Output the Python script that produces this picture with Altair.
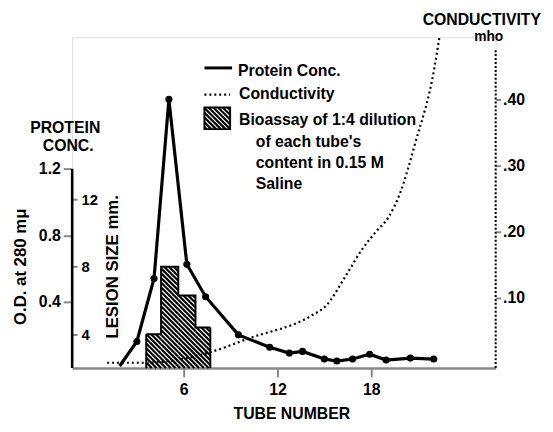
import math
import altair as alt
import pandas as pd

# ---------------- data ----------------
PROTEIN_TUBE = [1.9, 3.0, 4.1, 5.05, 6.2, 7.4, 9.5, 11.5, 12.75, 13.6, 15.0, 15.8, 16.8, 17.9, 18.95, 20.5, 22.0]
PROTEIN_OD = [0.012, 0.16, 0.54, 1.62, 0.625, 0.43, 0.20, 0.125, 0.09, 0.10, 0.054, 0.042, 0.054, 0.083, 0.048, 0.06, 0.054]
PROTEIN_DOT = [False] + [True] * 16

COND_TUBE = [1.1, 3.7, 5.1, 7.7, 10.2, 14.15, 15.1, 16.36, 17.4, 18.26, 19.1, 19.84, 20.8, 22.05, 22.36]
COND_MHO = [0.002, 0.002, 0.0045, 0.018, 0.039, 0.073, 0.088, 0.133, 0.173, 0.199, 0.222, 0.258, 0.333, 0.449, 0.494]

BIO_LEFT = [3.6, 4.55, 5.65, 6.75]
BIO_RIGHT = [4.55, 5.65, 6.75, 7.7]
BIO_LESION = [4.0, 8.0, 6.3, 4.4]

X_TICKS = [6, 12, 18]
OD_TICKS = [0.4, 0.8, 1.2]
LESION_TICKS = [4, 8, 12]
COND_TICKS = [0.1, 0.2, 0.3, 0.4]

LEGEND_LABELS = ["Protein Conc.", "Conductivity", "Bioassay of 1:4 dilution",
                 "of each tube's", "content in 0.15 M", "Saline"]
X_TITLE = "TUBE NUMBER"
OD_TITLE = "O.D. at 280 mμ"
LESION_TITLE = "LESION SIZE mm."
PROTEIN_HEAD = ["PROTEIN", "CONC."]
COND_HEAD = ["CONDUCTIVITY", "mho"]

# ---------------- layout / style ----------------
FONT = "Liberation Sans"
W, H = 429, 335
X_DOM = [-1.14, 25.96]
OD_DOM = [0.0, 1.994]
LES_DOM = [2.0, 21.59]
COND_DOM = [-0.006, 0.494]
OD_AXIS_TOP = 1.2
COND_AXIS_TOP = 0.476
HATCH_PERIOD = 4.8
HATCH_WIDTH = 2.2

KX = W / (X_DOM[1] - X_DOM[0])
KL = H / (LES_DOM[1] - LES_DOM[0])


def hatch_segments(xa, xb, yt, yb, period=HATCH_PERIOD):
    """Backslash hatch lines (x - y = const, in pixels) inside a pixel box."""
    segs = []
    k0 = math.ceil((xa - yb) / period) - 1
    k1 = math.floor((xb - yt) / period) + 1
    for k in range(k0, k1 + 1):
        c = k * period
        xs = max(xa, yt + c)
        xe = min(xb, yb + c)
        if xe - xs > 0.4:
            segs.append((xs, xs - c, xe, xe - c))
    return segs


AX_LABEL = dict(labelFont=FONT, labelFontWeight="bold", labelColor="black")
AX_TITLE = dict(titleFont=FONT, titleFontWeight="bold", titleColor="black")

x_axis = alt.Axis(values=X_TICKS, format="d", title=X_TITLE, grid=False,
                  domainWidth=2.6, tickWidth=2, tickSize=9, labelPadding=5,
                  labelFontSize=16, titleFontSize=16,
                  titleX=222, titleY=46, titleAlign="center", titleBaseline="middle",
                  **AX_LABEL, **AX_TITLE)


def X():
    return alt.X("tube:Q", scale=alt.Scale(domain=X_DOM, nice=False, zero=False), axis=x_axis)


od_axis = alt.Axis(orient="left", values=OD_TICKS, format=".1f", domain=False, grid=False,
                   tickWidth=2, tickSize=9, labelPadding=3, labelFontSize=16,
                   title=OD_TITLE, titleFontSize=17, titleAngle=270, titleX=-52, titleY=232,
                   titleAlign="center", titleBaseline="middle", **AX_LABEL, **AX_TITLE)
od_scale = alt.Scale(domain=OD_DOM, nice=False, zero=False)

les_axis = alt.Axis(orient="right", offset=-W, values=LESION_TICKS, format="d", domain=False,
                    grid=False, tickWidth=2, tickSize=5, labelPadding=4, labelFontSize=15,
                    title=LESION_TITLE, titleFontSize=17, titleAngle=270, titleX=41, titleY=232,
                    titleAlign="center", titleBaseline="middle", **AX_LABEL, **AX_TITLE)
les_scale = alt.Scale(domain=LES_DOM, nice=False, zero=False)

cond_axis = alt.Axis(orient="right", values=COND_TICKS,
                     labelExpr="replace(format(datum.value, '.2f'), '0.', '.')",
                     domain=False, grid=False, tickWidth=2, tickSize=5, labelPadding=2,
                     labelFontSize=16, title="", **AX_LABEL)
cond_scale = alt.Scale(domain=COND_DOM, nice=False, zero=False)


def LES():
    return alt.Y("lesion:Q", scale=les_scale, axis=les_axis)


# ---------------- bioassay (hatched histogram) ----------------
rows = []
for left, right, les in zip(BIO_LEFT, BIO_RIGHT, BIO_LESION):
    xa = (left - X_DOM[0]) * KX
    xb = (right - X_DOM[0]) * KX
    yt = H - (les - LES_DOM[0]) * KL
    for xs, ys, xe, ye in hatch_segments(xa, xb, yt, H):
        rows.append({"tube": X_DOM[0] + xs / KX, "lesion": LES_DOM[0] + (H - ys) / KL,
                     "tube2": X_DOM[0] + xe / KX, "lesion2": LES_DOM[0] + (H - ye) / KL})
bio_hatch = alt.Chart(pd.DataFrame(rows)).mark_rule(
    color="black", strokeWidth=HATCH_WIDTH, strokeCap="butt", clip=False
).encode(x=X(), x2="tube2:Q", y=LES(), y2="lesion2:Q")

outline_df = pd.DataFrame({
    "tube": BIO_LEFT + [BIO_RIGHT[-1]],
    "lesion": BIO_LESION + [BIO_LESION[-1]],
})
bio_outline = alt.Chart(outline_df).mark_line(
    interpolate="step-after", color="black", strokeWidth=2, clip=False
).encode(x=X(), y=LES())
bio_sides = alt.Chart(pd.DataFrame({"tube": [BIO_LEFT[0], BIO_RIGHT[-1]],
                                    "lesion": [BIO_LESION[0], BIO_LESION[-1]],
                                    "base": [LES_DOM[0], LES_DOM[0]]})).mark_rule(
    color="black", strokeWidth=2
).encode(x=X(), y=LES(), y2="base:Q")
bio = alt.layer(bio_hatch, bio_outline, bio_sides)

# ---------------- conductivity ----------------
cond_df = pd.DataFrame({"tube": COND_TUBE, "cond": COND_MHO})
cond_line = alt.Chart(cond_df).mark_line(
    color="black", strokeWidth=2.2, strokeDash=[2, 3], interpolate="monotone", clip=False
).encode(x=X(), y=alt.Y("cond:Q", scale=cond_scale, axis=cond_axis))
cond_rule = alt.Chart(pd.DataFrame({"tube": [X_DOM[1]], "cond": [COND_DOM[0]],
                                    "ctop": [COND_AXIS_TOP]})).mark_rule(
    color="black", strokeWidth=2, strokeDash=[2, 2]
).encode(x=X(), y=alt.Y("cond:Q", scale=cond_scale, axis=cond_axis), y2="ctop:Q")
cond_layer = alt.layer(cond_line, cond_rule)

# ---------------- protein ----------------
prot_df = pd.DataFrame({"tube": PROTEIN_TUBE, "od": PROTEIN_OD, "dot": PROTEIN_DOT})
prot_line = alt.Chart(prot_df).mark_line(color="black", strokeWidth=3.2, clip=False).encode(
    x=X(), y=alt.Y("od:Q", scale=od_scale, axis=od_axis))
prot_pts = alt.Chart(prot_df).transform_filter("datum.dot").mark_circle(
    color="black", size=52, opacity=1, clip=False
).encode(x=X(), y=alt.Y("od:Q", scale=od_scale, axis=od_axis))
prot_rule = alt.Chart(pd.DataFrame({"tube": [X_DOM[0]], "od": [OD_DOM[0]],
                                    "otop": [OD_AXIS_TOP]})).mark_rule(
    color="black", strokeWidth=2.6
).encode(x=X(), y=alt.Y("od:Q", scale=od_scale, axis=od_axis), y2="otop:Q")
prot_layer = alt.layer(prot_line, prot_pts, prot_rule)


# ---------------- legend & headings ----------------
def label(text, x, y, size=16, align="left"):
    return alt.Chart(pd.DataFrame({"t": [text]})).mark_text(
        font=FONT, fontSize=size, fontWeight="bold", color="black",
        align=align, baseline="alphabetic"
    ).encode(text="t:N", x=alt.value(x), y=alt.value(y))


one = pd.DataFrame({"k": [0]})
leg_line = alt.Chart(one).mark_rule(color="black", strokeWidth=3).encode(
    x=alt.value(134), x2=alt.value(162), y=alt.value(31))
leg_dot = alt.Chart(one).mark_rule(color="black", strokeWidth=2.2, strokeDash=[2, 3]).encode(
    x=alt.value(134), x2=alt.value(160), y=alt.value(58))
BOX = (134, 160, 71, 93)
leg_hatch = [
    alt.Chart(one).mark_rule(color="black", strokeWidth=HATCH_WIDTH, strokeCap="butt").encode(
        x=alt.value(xs), x2=alt.value(xe), y=alt.value(ys), y2=alt.value(ye))
    for xs, ys, xe, ye in hatch_segments(*BOX)
]
leg_box = alt.Chart(one).mark_rect(fillOpacity=0, stroke="black", strokeWidth=2).encode(
    x=alt.value(BOX[0]), x2=alt.value(BOX[1]), y=alt.value(BOX[2]), y2=alt.value(BOX[3]))

texts = [
    label(LEGEND_LABELS[0], 168, 39),
    label(LEGEND_LABELS[1], 169, 62),
    label(LEGEND_LABELS[2], 169, 89),
    label(LEGEND_LABELS[3], 186, 111),
    label(LEGEND_LABELS[4], 186, 132),
    label(LEGEND_LABELS[5], 186, 154),
    label(PROTEIN_HEAD[0], -7, 97, align="center"),
    label(PROTEIN_HEAD[1], -4, 115, align="center"),
    label(COND_HEAD[0], 415, -12, align="center"),
    label(COND_HEAD[1], 422, 4, size=14, align="center"),
]

chart = alt.layer(
    bio, cond_layer, prot_layer, leg_line, leg_dot, *leg_hatch, leg_box, *texts
).resolve_scale(y="independent").properties(
    width=W, height=H,
    autosize=alt.AutoSizeParams(type="none"),
    padding={"left": 65, "top": 27, "right": 50, "bottom": 54},
).configure_view(strokeWidth=0).configure_axis(
    tickColor="black", domainColor="black"
).configure(background="white")

chart.save("out.html", embed_options={"renderer": "svg", "actions": False})
